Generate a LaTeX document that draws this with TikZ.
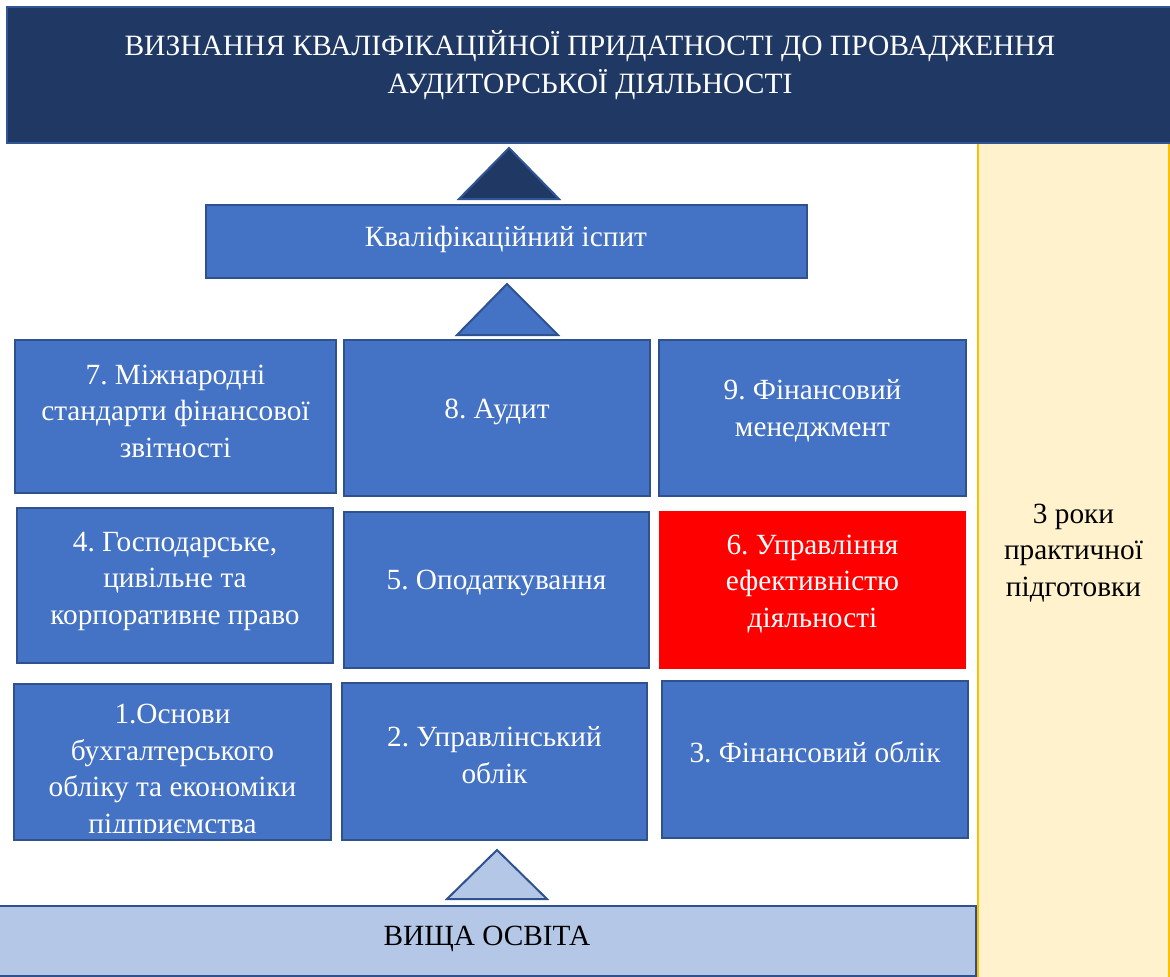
\documentclass[tikz,border=0pt]{standalone}
\usepackage{fontspec}
\setmainfont{Liberation Serif}
\frenchspacing
\definecolor{navy}{HTML}{203864}
\definecolor{navyedge}{HTML}{2F5597}
\definecolor{boxblue}{HTML}{4472C4}
\definecolor{boxedge}{HTML}{2F528F}
\definecolor{paleblue}{HTML}{B4C7E7}
\definecolor{cream}{HTML}{FFF2CC}
\definecolor{gold}{HTML}{FFC000}
\tikzset{
  panel/.style={rectangle, inner sep=0pt, fill=boxblue, draw=boxedge, line width=2pt},
  hotpanel/.style={rectangle, inner sep=0pt, fill=red, draw=none},
  boxtext/.style={text=white, align=center, inner sep=0pt, font=\fontsize{29.3}{36.5}\selectfont},
  darktext/.style={text=black, align=center, inner sep=0pt, font=\fontsize{29.3}{36.5}\selectfont},
  headtext/.style={text=white, align=center, inner sep=0pt, font=\fontsize{29.5}{38}\selectfont},
  uptri/.style={line width=2pt, draw=boxedge, line join=miter},
}
\begin{document}
\begin{tikzpicture}[x=1pt,y=-1pt]
\clip (0,0) rectangle (1170,977);
\fill[white] (0,0) rectangle (1170,977);

% practical training column on the right
\node[rectangle, inner sep=0pt, fill=cream, draw=gold, line width=2pt,
      minimum width=191pt, minimum height=843pt] (train) at (1073.5,563.5) {};
\node[darktext] (traint) at (1073.5,553) {3 роки\\практичної\\підготовки};

% heading banner
\node[rectangle, inner sep=0pt, fill=navy, draw=navyedge, line width=1.5pt,
      minimum width=1168pt, minimum height=136pt] (head) at (591,75) {};
\node[headtext] (headt) at (590,65) {ВИЗНАННЯ КВАЛІФІКАЦІЙНОЇ ПРИДАТНОСТІ ДО ПРОВАДЖЕННЯ\\АУДИТОРСЬКОЇ ДІЯЛЬНОСТІ};

% qualification exam
\node[panel, minimum width=601pt, minimum height=73pt] (exam) at (506.5,241.5) {};
\node[boxtext] (examt) at (506,239) {Кваліфікаційний іспит};

% subject grid, top row
\node[panel, minimum width=321pt, minimum height=153pt] (b7) at (175.5,416.5) {};
\node[boxtext] (t7) at (175.5,411) {7. Міжнародні\\стандарти фінансової\\звітності};
\node[panel, minimum width=306pt, minimum height=156pt] (b8) at (497,418) {};
\node[boxtext] (t8) at (497,412) {8. Аудит};
\node[panel, minimum width=307pt, minimum height=156pt] (b9) at (812.5,418) {};
\node[boxtext] (t9) at (812.5,411) {9. Фінансовий\\менеджмент};

% middle row
\node[panel, minimum width=316pt, minimum height=155pt] (b4) at (175,585.5) {};
\node[boxtext] (t4) at (175,581) {4. Господарське,\\цивільне та\\корпоративне право};
\node[panel, minimum width=305pt, minimum height=156pt] (b5) at (496.5,590) {};
\node[boxtext] (t5) at (496.5,583) {5. Оподаткування};
\node[hotpanel, minimum width=307pt, minimum height=158pt] (b6) at (812.5,590) {};
\node[boxtext] (t6) at (812.5,584) {6. Управління\\ефективністю\\діяльності};

% bottom row
\node[panel, minimum width=317pt, minimum height=156pt] (b1) at (172.5,762) {};
\begin{scope}
  \clip ([xshift=2pt,yshift=-2pt]b1.north west) rectangle ([xshift=-2pt,yshift=9pt]b1.south east);
  \node[boxtext] (t1) at (172.5,772) {1.Основи\\бухгалтерського\\обліку та економіки\\підприємства};
\end{scope}
\node[panel, minimum width=305pt, minimum height=157pt] (b2) at (494.5,761.5) {};
\node[boxtext] (t2) at (494.5,755) {2. Управлінський\\облік};
\node[panel, minimum width=306pt, minimum height=157pt] (b3) at (815,759.5) {};
\node[boxtext] (t3) at (815,752) {3. Фінансовий облік};

% higher education base
\node[rectangle, inner sep=0pt, fill=paleblue, draw=boxedge, line width=2pt,
      minimum width=979pt, minimum height=70pt] (base) at (486.5,941) {};
\node[darktext] (baset) at (487,939) {ВИЩА ОСВІТА};

% upward triangles between the levels
\coordinate (ap3) at (509,148);
\coordinate (ap2) at (507,284);
\coordinate (ap1) at (497,850);
\draw[uptri, fill=navy, draw=navyedge] (ap3) -- ++(50,51) -- ++(-100,0) -- cycle;
\draw[uptri, fill=boxblue] (ap2) -- ++(51,51) -- ++(-101,0) -- cycle;
\draw[uptri, fill=paleblue] (ap1) -- ++(50,49) -- ++(-100,0) -- cycle;
\end{tikzpicture}
\end{document}
